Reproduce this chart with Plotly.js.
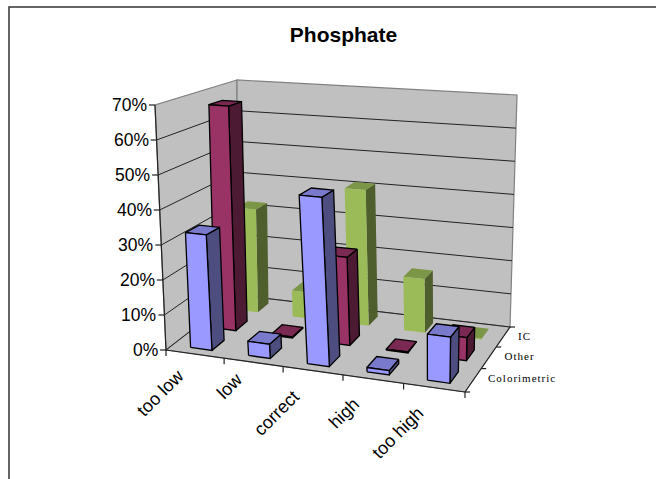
<!DOCTYPE html>
<html><head><meta charset="utf-8">
<script src="https://cdn.plot.ly/plotly-3.0.1.min.js"></script>
<style>html,body{margin:0;padding:0;background:#fff}#c{width:656px;height:479px}</style>
</head><body><div id="c"></div>
<script>
const categories = ["too low","low","correct","high","too high"];
const seriesNames = ["Colorimetric","Other","IC"];
const colorimetric = [33,4,47,1.2,12.5];
const other = [67,0.3,25.5,0.3,6.5];
const ic = [32,8,41,16,0.3];
const yTicks = [0,10,20,30,40,50,60,70];
const yMax = 70;

// view of the 3D box in page pixels: floor and ceiling quads (front-left, front-right, back-right, back-left)
const floorQ = [[166,350],[465,392],[510,327],[237,295]];
const topQ   = [[155,105],[472,130],[517,95],[237,80]];
const barW = 0.37, barD = 0.5, warp = 0.07;
// label placement relative to the axis ticks
const catDx = [-4,-4,-7,-7,-4], catDy = [9,4,13,12,13];
const depthDx = [19,16,14], depthDy = [-2,-2,-1];

function quad(q){
  const [p0,p1,p2,p3]=q;
  const dx1=p1[0]-p2[0],dx2=p3[0]-p2[0],sx=p0[0]-p1[0]+p2[0]-p3[0];
  const dy1=p1[1]-p2[1],dy2=p3[1]-p2[1],sy=p0[1]-p1[1]+p2[1]-p3[1];
  const den=dx1*dy2-dx2*dy1;
  const g=(sx*dy2-dx2*sy)/den,h=(dx1*sy-sx*dy1)/den;
  const a=p1[0]-p0[0]+g*p1[0],b=p3[0]-p0[0]+h*p3[0],c=p0[0];
  const d=p1[1]-p0[1]+g*p1[1],e=p3[1]-p0[1]+h*p3[1],f=p0[1];
  return (s,t)=>{const w=g*s+h*t+1;return [(a*s+b*t+c)/w,(d*s+e*t+f)/w];};
}
const H0=quad(floorQ),H1=quad(topQ);
function P(u,v,z){
  const s0=u/5,s=s0+warp*s0*(1-s0);
  const a=H0(s,v/3),b=H1(s,v/3),t=z/yMax;
  return [a[0]+(b[0]-a[0])*t,a[1]+(b[1]-a[1])*t];
}
const traces=[];
function poly(pts,fill,line,w){
  const c=pts.concat([pts[0]]);
  traces.push({type:'scatter',mode:'lines',x:c.map(p=>p[0]),y:c.map(p=>p[1]),fill:'toself',fillcolor:fill,
    line:{color:line||fill,width:w||0},hoverinfo:'skip',showlegend:false});
}
function path(segs,color,w){
  const x=[],y=[];
  segs.forEach(s=>{s.forEach(p=>{x.push(p[0]);y.push(p[1]);});x.push(null);y.push(null);});
  traces.push({type:'scatter',mode:'lines',x,y,line:{color,width:w},hoverinfo:'skip',showlegend:false});
}
// walls and floor
const wall='#c0c0c0',wallEdge='#808080';
poly([P(0,0,0),P(0,3,0),P(0,3,yMax),P(0,0,yMax)],wall,wallEdge,1.2);
poly([P(0,3,0),P(5,3,0),P(5,3,yMax),P(0,3,yMax)],wall,wallEdge,1.2);
poly([P(0,0,0),P(5,0,0),P(5,3,0),P(0,3,0)],wall,wallEdge,1);
// gridlines
path(yTicks.slice(1,-1).concat([0]).map(z=>[P(0,0,z),P(0,3,z),P(5,3,z)]),'#222',1);
// axes and ticks
path([[P(0,0,0),P(0,0,yMax)],[P(0,0,0),P(5,0,0)],[P(5,0,0),P(5,3,0)]],'#222',1.2);
path(yTicks.map(z=>{const p=P(0,0,z);return [[p[0]-6,p[1]],p];}),'#222',1.2);
path(categories.map((c,i)=>i).concat([5]).map(i=>{const p=P(i,0,0);return [p,[p[0],p[1]+6]];}),'#222',1.2);
path([0,1,2,3].map(i=>{const p=P(5,i,0);return [p,[p[0]+5,p[1]]];}),'#222',1.2);

const styles=[
 {f:'#9999ff',t:'#7a7acc',s:'#4d4d80',e:'#000',w:1.3,vals:colorimetric},
 {f:'#993366',t:'#7a2952',s:'#4d1a33',e:'#000',w:1.3,vals:other},
 {f:'#9bbb59',t:'#7c9647',s:'#4e5e2c',e:null,w:0,vals:ic}];
[2,1,0].forEach(s=>{
  const st=styles[s];
  categories.forEach((c,i)=>{
    const z=st.vals[i];
    const u0=i+.5-barW/2,u1=i+.5+barW/2,v0=s+.5-barD/2,v1=s+.5+barD/2;
    poly([P(u1,v0,0),P(u1,v1,0),P(u1,v1,z),P(u1,v0,z)],st.s,st.e,st.w);
    poly([P(u0,v0,z),P(u1,v0,z),P(u1,v1,z),P(u0,v1,z)],st.t,st.e,st.w);
    poly([P(u0,v0,0),P(u1,v0,0),P(u1,v0,z),P(u0,v0,z)],st.f,st.e,st.w);
  });
});
// frame
path([[[9,479],[9,7],[656,7]]],'#333',1.5);

const ann=[];
const txt=(text,x,y,o)=>ann.push(Object.assign({text,x,y,xref:'x',yref:'y',showarrow:false},o));
const sans='Liberation Sans, Arial, sans-serif',serif='Liberation Serif, Times New Roman, serif';
yTicks.forEach(z=>{const p=P(0,0,z);
  txt(z+'%',p[0]-6,p[1],{xanchor:'right',yanchor:'middle',font:{family:sans,size:17.5,color:'#000'}});});
categories.forEach((c,i)=>{const p=P(i+.5,0,0);
  txt(c,p[0]+catDx[i],p[1]+catDy[i],{xanchor:'right',yanchor:'top',textangle:-45,font:{family:sans,size:18,color:'#000'}});});
seriesNames.forEach((n,i)=>{const p=P(5,i+.5,0);
  txt(n,p[0]+depthDx[i],p[1]+depthDy[i],{xanchor:'left',yanchor:'middle',font:{family:serif,size:11,color:'#000'}});});

Plotly.newPlot('c',traces,{
  width:656,height:479,margin:{l:0,r:0,t:0,b:0},paper_bgcolor:'#fff',plot_bgcolor:'#fff',showlegend:false,
  title:{text:'<b>Phosphate</b>',x:343.5/656,xanchor:'center',y:1-35/479,yanchor:'middle',font:{family:sans,size:21,color:'#000'}},
  xaxis:{range:[0,656],visible:false,fixedrange:true},
  yaxis:{range:[479,0],visible:false,fixedrange:true},
  annotations:ann
},{displayModeBar:false,staticPlot:true}).then(gd=>{
  gd.querySelectorAll('.annotation-text').forEach(t=>{
    if(seriesNames.includes(t.textContent)) t.style.letterSpacing='1px';
  });
});
</script></body></html>
